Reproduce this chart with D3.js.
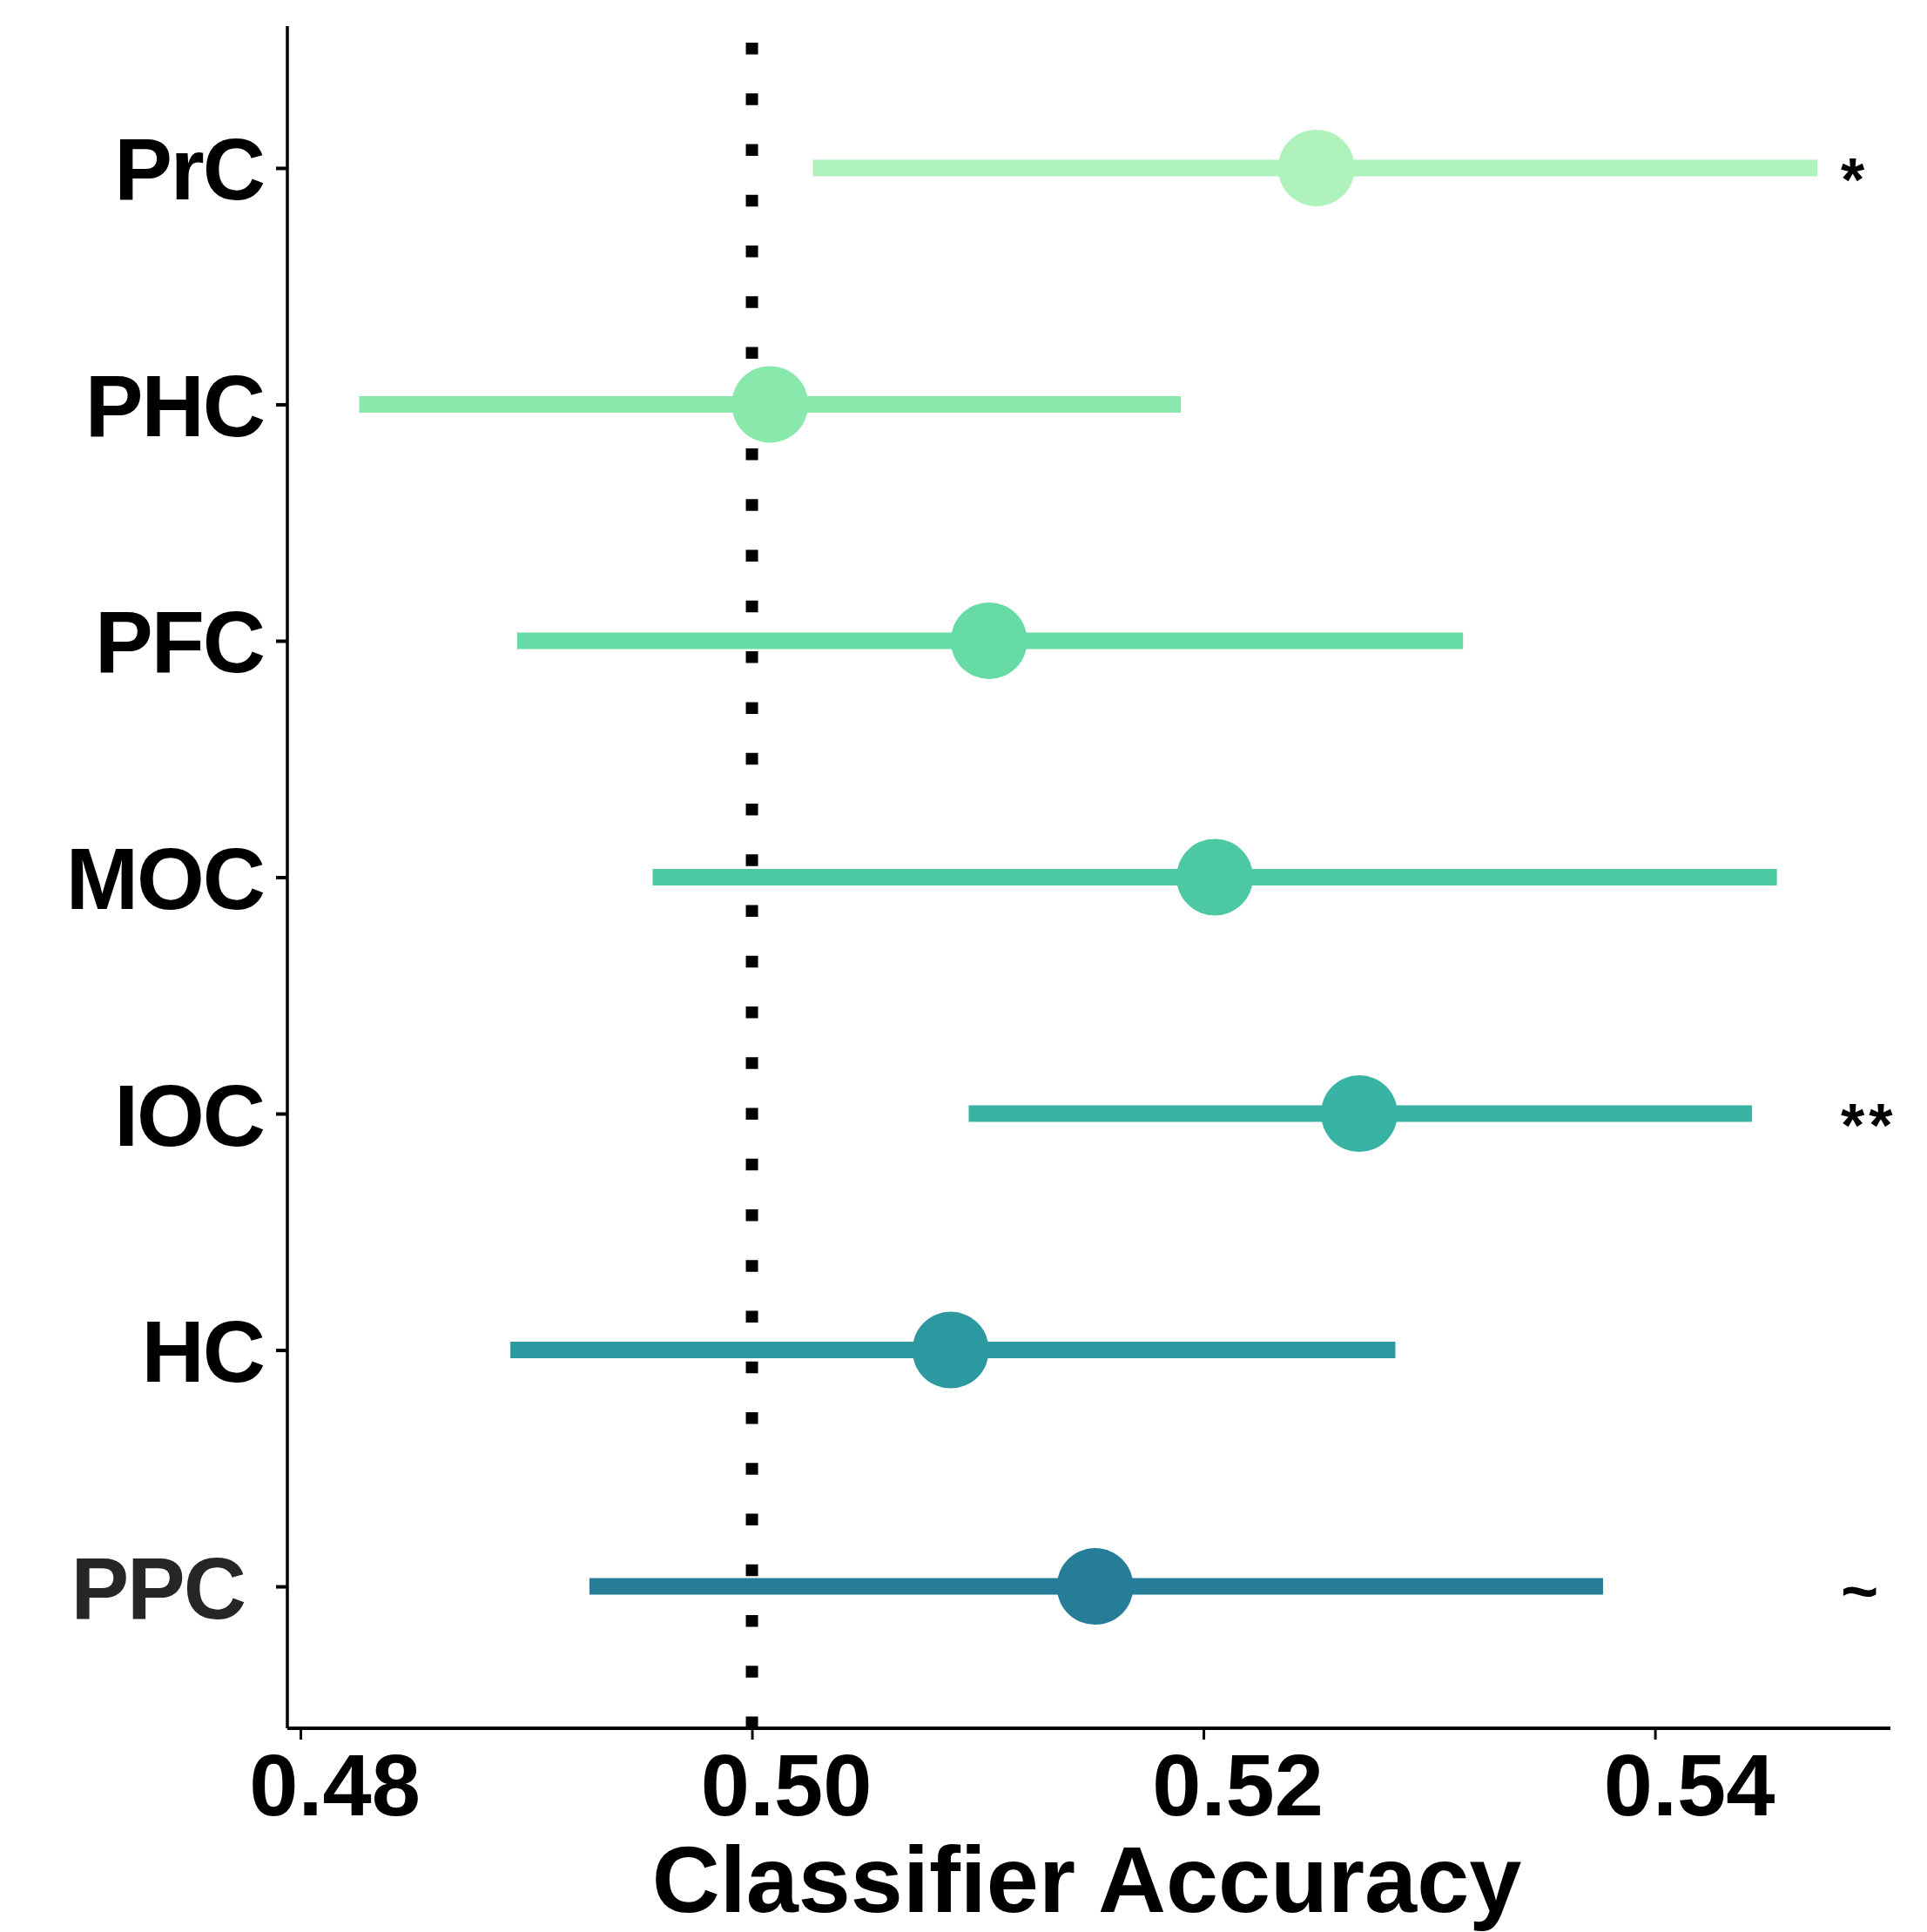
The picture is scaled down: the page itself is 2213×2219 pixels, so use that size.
<!DOCTYPE html>
<html>
<head>
<meta charset="utf-8">
<script src="https://cdn.jsdelivr.net/npm/d3@7"></script>
<style>
  html, body { margin: 0; padding: 0; background: #fff; }
  svg { display: block; }
</style>
</head>
<body>
<svg id="chart" width="2213" height="2219"></svg>
<script>
// ---- data ----
const regions   = ["PrC", "PHC", "PFC", "MOC", "IOC", "HC", "PPC"];
const meanAcc   = [0.5250, 0.5008, 0.5105, 0.5205, 0.5269, 0.5088, 0.5152];
const lowerCI   = [0.5027, 0.4826, 0.4896, 0.4956, 0.5096, 0.4893, 0.4928];
const upperCI   = [0.5472, 0.5190, 0.5315, 0.5454, 0.5443, 0.5285, 0.5377];
const sigMarks  = ["*", "", "", "", "**", "", "~"];
const colors    = ["#b0f2bc", "#89e8ac", "#67dba5", "#4cc8a3", "#38b2a3", "#2c98a0", "#257d98"];
const xTicks    = [0.48, 0.50, 0.52, 0.54];
const chanceLvl = 0.50;
const xTitle    = "Classifier Accuracy";

(function () {
const data = regions.map((r, i) => ({
  region: r, mean: meanAcc[i], lo: lowerCI[i], hi: upperCI[i], sig: sigMarks[i], color: colors[i]
}));

// ---- layout ----
const pLeft = 330, pRight = 2171, pTop = 30, pBottom = 1985;
const svg = d3.select("#chart");
const font = "'Liberation Sans', Arial, Helvetica, sans-serif";

const x = d3.scaleLinear().domain([0.47942, 0.55043]).range([pLeft, pRight]);
const y = d3.scalePoint().domain(regions).range([pTop, pBottom]).padding(0.6);

// chance line (dotted)
svg.append("line")
  .attr("x1", x(chanceLvl)).attr("x2", x(chanceLvl))
  .attr("y1", 49).attr("y2", pBottom)
  .attr("stroke", "#000").attr("stroke-width", 14)
  .attr("stroke-dasharray", "13.5 44.76");

// error bars
svg.append("g").selectAll("line").data(data).join("line")
  .attr("x1", d => x(d.lo)).attr("x2", d => x(d.hi))
  .attr("y1", d => y(d.region)).attr("y2", d => y(d.region))
  .attr("stroke", d => d.color).attr("stroke-width", 19);

// points
svg.append("g").selectAll("circle").data(data).join("circle")
  .attr("cx", d => x(d.mean)).attr("cy", d => y(d.region))
  .attr("r", 44).attr("fill", d => d.color);

// significance marks
svg.append("g").selectAll("text").data(data.filter(d => d.sig)).join("text")
  .attr("x", 2114)
  .attr("y", d => y(d.region) + (d.sig === "~" ? 31 : 38))
  .attr("font-family", font).attr("font-weight", "bold")
  .attr("font-size", d => d.sig === "~" ? 74 : 70).attr("fill", "#000")
  .attr("letter-spacing", d => d.sig === "**" ? 5 : 0)
  .text(d => d.sig);

// y axis
const yAxis = svg.append("g").attr("transform", `translate(${pLeft},0)`)
  .call(d3.axisLeft(y).tickSize(13).tickPadding(15));
yAxis.select(".domain").attr("d", `M0,${pTop}V${pBottom}`).attr("stroke", "#000").attr("stroke-width", 3.5);
yAxis.selectAll(".tick line").attr("stroke", "#000").attr("stroke-width", 4);
yAxis.selectAll(".tick text")
  .attr("font-family", font).attr("font-weight", "bold").attr("font-size", 100)
  .attr("letter-spacing", -2)
  .attr("fill", d => d === "PPC" ? "#262626" : "#000")
  .attr("dy", "0.36em")
  .attr("x", d => d === "PPC" ? -49 : -27);

// x axis
const xAxis = svg.append("g").attr("transform", `translate(0,${pBottom})`)
  .call(d3.axisBottom(x).tickValues(xTicks).tickFormat(d3.format(".2f")).tickSize(13).tickPadding(14));
xAxis.select(".domain").attr("d", `M${pLeft},0H${pRight}`).attr("stroke", "#000").attr("stroke-width", 4);
xAxis.selectAll(".tick line").attr("stroke", "#000").attr("stroke-width", 3);
xAxis.selectAll(".tick text")
  .attr("font-family", font).attr("font-weight", "bold").attr("font-size", 101)
  .attr("fill", "#000")
  .attr("dx", 39)
  .attr("y", 100).attr("dy", 0);

// x title
svg.append("text")
  .attr("x", 1248).attr("y", 2196)
  .attr("text-anchor", "middle")
  .attr("font-family", font).attr("font-weight", "bold").attr("font-size", 108)
  .attr("fill", "#000")
  .text(xTitle);
})();
</script>
</body>
</html>
